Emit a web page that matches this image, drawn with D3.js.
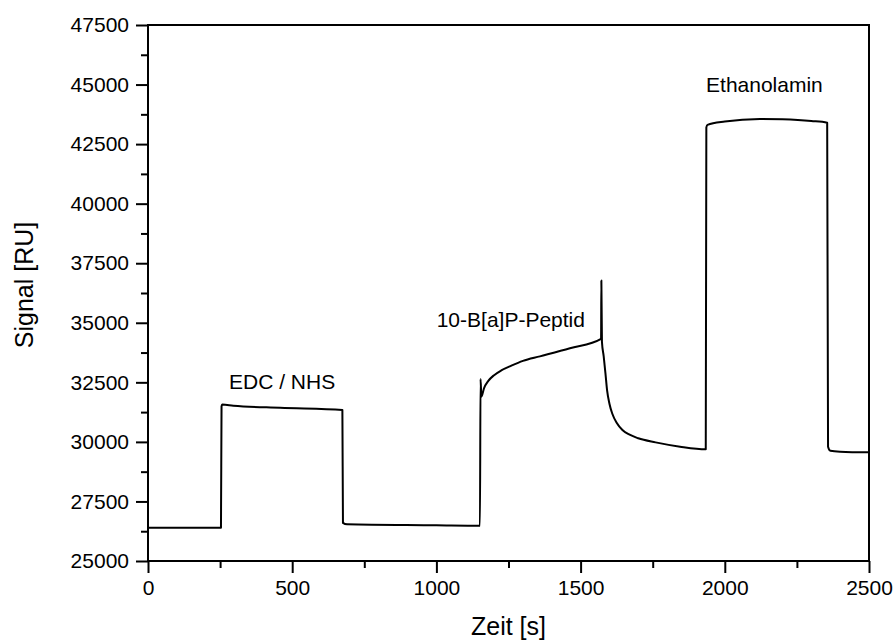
<!DOCTYPE html>
<html>
<head>
<meta charset="utf-8">
<script src="https://cdn.jsdelivr.net/npm/d3@7"></script>
<style>
  body { margin: 0; background: #fff; }
  text { font-family: "Liberation Sans", Arial, sans-serif; fill: #000; }
</style>
</head>
<body>
<script>
var w = 896;
var h = 644;

// Sensorgram: time [s] and signal [RU]
var time = [0, 253, 255, 258, 296, 458, 674, 676, 690, 1000, 1151,
    1153, 1156, 1165, 1180, 1200, 1225, 1260, 1300, 1359, 1463, 1571,
    1572, 1574, 1580, 1586, 1592, 1600, 1610, 1625, 1645, 1670, 1700, 1760, 1845, 1934,
    1936, 1940, 2000, 2122, 2200, 2300, 2355,
    2358, 2366, 2400, 2500];
var signal = [26400, 26400, 31500, 31570, 31520, 31430, 31340, 26600, 26540, 26500, 26480,
    32640, 31900, 32250, 32560, 32800, 33000, 33200, 33400, 33590, 33930, 34320,
    36770, 34200, 33600, 32900, 32150, 31600, 31180, 30800, 30500, 30300, 30150, 29980, 29800, 29690,
    43200, 43310, 43450, 43556, 43540, 43470, 43400,
    29800, 29630, 29590, 29560];

var annLabels = ["EDC / NHS", "10-B[a]P-Peptid", "Ethanolamin"];
var annTime = [281, 1001, 1935];
var annSignal = [32221, 34824, 44690];

var xTicks = [0, 500, 1000, 1500, 2000, 2500];
var yTicks = [25000, 27500, 30000, 32500, 35000, 37500, 40000, 42500, 45000, 47500];

var margin = {left: 148, right: 27, top: 25, bottom: 83};

var x = d3.scaleLinear()
    .domain([0, 2500])
    .range([margin.left, w - margin.right]);

var y = d3.scaleLinear()
    .domain([25000, 47500])
    .range([h - margin.bottom, margin.top]);

var svg = d3.select("body")
    .append("svg")
    .attr("width", w)
    .attr("height", h);

// minor ticks
svg.append("g")
    .attr("transform", "translate(0," + y(25000) + ")")
    .call(d3.axisBottom(x).tickValues(d3.range(250, 2500, 500)).tickSize(7).tickFormat(""))
    .call(g => g.select(".domain").remove())
    .selectAll("line").attr("stroke-width", 2);

svg.append("g")
    .attr("transform", "translate(" + x(0) + ",0)")
    .call(d3.axisLeft(y).tickValues(d3.range(26250, 47500, 2500)).tickSize(7).tickFormat(""))
    .call(g => g.select(".domain").remove())
    .selectAll("line").attr("stroke-width", 2);

// major ticks
var xAxis = svg.append("g")
    .attr("transform", "translate(0," + y(25000) + ")")
    .call(d3.axisBottom(x).tickValues(xTicks).tickSize(12).tickPadding(7).tickFormat(d3.format("d")));
xAxis.select(".domain").remove();
xAxis.selectAll("line").attr("stroke-width", 2);
xAxis.selectAll("text").attr("font-size", 21).style("font-family", "Liberation Sans, Arial, sans-serif");

var yAxis = svg.append("g")
    .attr("transform", "translate(" + x(0) + ",0)")
    .call(d3.axisLeft(y).tickValues(yTicks).tickSize(12).tickPadding(7).tickFormat(d3.format("d")));
yAxis.select(".domain").remove();
yAxis.selectAll("line").attr("stroke-width", 2);
yAxis.selectAll("text").attr("font-size", 21).style("font-family", "Liberation Sans, Arial, sans-serif");

// frame
svg.append("rect")
    .attr("x", x(0))
    .attr("y", y(47500))
    .attr("width", x(2500) - x(0))
    .attr("height", y(25000) - y(47500))
    .attr("fill", "none")
    .attr("stroke", "#000")
    .attr("stroke-width", 2);

var line = d3.line()
    .x(function (d, i) { return x(time[i]); })
    .y(function (d) { return y(d); })
    .curve(d3.curveMonotoneX);

svg.append("path")
    .datum(signal)
    .attr("fill", "none")
    .attr("stroke", "#000")
    .attr("stroke-width", 2)
    .attr("stroke-linejoin", "round")
    .attr("d", line);

svg.selectAll(".ann")
    .data(annLabels)
    .enter()
    .append("text")
    .attr("class", "ann")
    .attr("x", function (d, i) { return x(annTime[i]); })
    .attr("y", function (d, i) { return y(annSignal[i]); })
    .attr("font-size", 21)
    .text(function (d) { return d; });

svg.append("text")
    .attr("x", (x(0) + x(2500)) / 2)
    .attr("y", 635)
    .attr("text-anchor", "middle")
    .attr("font-size", 25)
    .text("Zeit [s]");

svg.append("text")
    .attr("transform", "translate(33," + 285 + ") rotate(-90)")
    .attr("text-anchor", "middle")
    .attr("font-size", 25)
    .text("Signal [RU]");
</script>
</body>
</html>
